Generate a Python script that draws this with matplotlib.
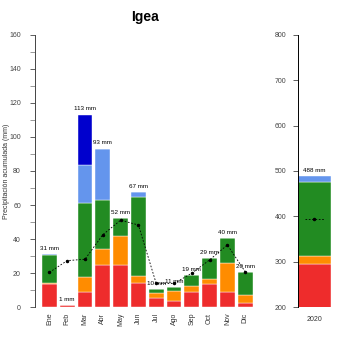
import matplotlib
matplotlib.use("Agg")
from matplotlib import pyplot as plt
import numpy as np

plt.rcParams['font.family'] = ['Liberation Sans', 'DejaVu Sans']

months = ['Ene', 'Feb', 'Mar', 'Abr', 'May', 'Jun',
          'Jul', 'Ago', 'Sep', 'Oct', 'Nov', 'Dic']
# stacked layers per month (mm)
red = [13.5, 1.2, 9.2, 24.6, 24.6, 14.4, 5.7, 3.7, 9.2, 13.8, 9.2, 2.5]
orange = [0.7, 0.0, 8.5, 9.5, 17.1, 3.7, 2.5, 6.0, 3.5, 2.8, 16.9, 4.7]
green = [16.2, 0.0, 43.5, 28.7, 10.5, 46.4, 2.5, 2.0, 6.2, 12.2, 14.6, 13.5]
lightblue = [0.6, 0.0, 22.2, 30.2, 0.0, 2.9, 0.0, 0.0, 0.0, 0.0, 0.0, 0.0]
blue = [0.0, 0.0, 29.6, 0.0, 0.0, 0.0, 0.0, 0.0, 0.0, 0.0, 0.0, 0.0]
totals = [31, 1, 113, 93, 52, 67, 10, 11, 19, 29, 40, 20]
normal = [20.5, 27.4, 28.2, 42.6, 51.1, 48.3, 14, 14, 20, 27.8, 36.6, 20.9]

year = ['2020']
year_layers = [296, 17, 162, 13]
year_total = 488
year_normal = 395

colors = ['#EE2C2C', '#FF8C00', '#228B22', '#6495ED', '#0000CD']

fig = plt.figure(figsize=(3.5, 3.5), dpi=100)
ax = fig.add_axes([0.099, 0.122, 0.632, 0.779])
ax2 = fig.add_axes([0.852, 0.122, 0.0926, 0.779])

x = np.arange(len(months))
bottom = np.zeros(len(months))
for vals, c in zip([red, orange, green, lightblue, blue], colors):
    ax.bar(x, vals, 0.84, bottom=bottom, color=c, edgecolor='white', linewidth=0.3)
    bottom += np.array(vals)

for i, t in enumerate(totals):
    ax.text(i, bottom[i] + 2, f'{t} mm', ha='center', va='bottom', fontsize=4.5)

ax.plot(x, normal, color='black', linestyle=(0, (2, 2)), linewidth=0.6,
        marker='o', markersize=1.5)

ax.set_xlim(-0.83, 11.6)
ax.set_ylim(0, 160)
ax.set_yticks(np.arange(0, 161, 20))
ax.set_yticks(np.arange(10, 160, 20), minor=True)
ax.set_xticks(x)
ax.set_xticklabels(months, rotation=90)
ax.tick_params(axis='y', labelsize=5, length=3.4, width=0.6, pad=6.5, colors='#444444')
ax.tick_params(axis='y', which='minor', length=3.4, width=0.6, color='#888888')
ax.tick_params(axis='x', labelsize=5, length=0, pad=4, colors='#333333')
for s in ['top', 'right', 'bottom']:
    ax.spines[s].set_visible(False)
ax.spines['left'].set_color('#444444')
ax.spines['left'].set_linewidth(0.7)
ax.set_ylabel('Precipitación acumulada (mm)', fontsize=5, color='#333333')
ax.yaxis.set_label_coords(-0.112, 0.5)
ax.set_title('Igea', fontsize=10, fontweight='bold', pad=10)

# annual panel
yb = 0
for v, c in zip(year_layers, colors):
    ax2.bar([0.5], [v], 1.0, bottom=yb, color=c, edgecolor='white', linewidth=0.3)
    yb += v
ax2.text(0.5, yb + 8, f'{year_total} mm', ha='center', va='bottom', fontsize=4.5)
ax2.plot([0.2, 0.8], [year_normal, year_normal], color='black',
         linestyle=(0, (2, 2)), linewidth=0.6)
ax2.plot([0.5], [year_normal], 'o', color='black', markersize=1.5)
ax2.set_xlim(0, 1)
ax2.set_ylim(200, 800)
ax2.set_yticks(np.arange(200, 801, 100))
ax2.set_xticks([0.5])
ax2.set_xticklabels(year)
ax2.tick_params(axis='y', labelsize=5, length=3.5, width=0.6, pad=5, colors='#444444')
ax2.tick_params(axis='x', labelsize=5, length=0, pad=6, colors='#333333')
for s in ['top', 'right', 'bottom']:
    ax2.spines[s].set_visible(False)
ax2.spines['left'].set_linewidth(0.7)

fig.savefig('out.png', dpi=100)
